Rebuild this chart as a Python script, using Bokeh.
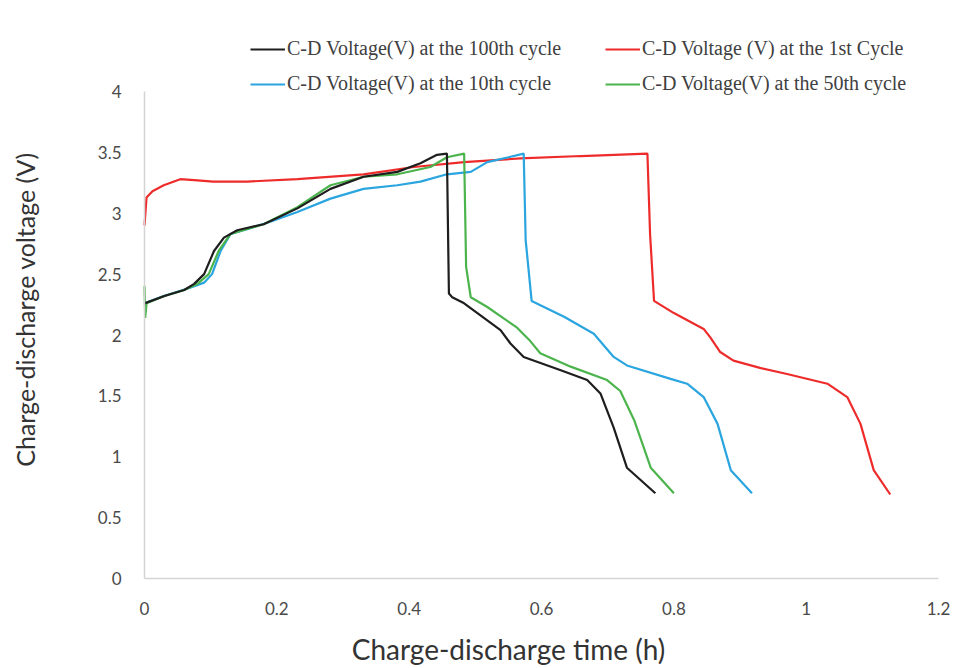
from bokeh.plotting import figure
from bokeh.models import Legend, LegendItem, Range1d, FixedTicker, LinearAxis
from bokeh.embed import file_html
from bokeh.resources import INLINE

# ---- data ----
series_names = [
    "C-D Voltage(V) at the 100th cycle",
    "C-D Voltage (V) at the 1st Cycle",
    "C-D Voltage(V) at the 10th cycle",
    "C-D Voltage(V) at the 50th cycle",
]

t_1st = [0, 0.003, 0.012, 0.029, 0.054, 0.080, 0.104, 0.155, 0.231, 0.331, 0.407, 0.483,
         0.568, 0.660, 0.760, 0.764, 0.770, 0.800, 0.845, 0.855, 0.870, 0.890, 0.930, 0.971,
         1.032, 1.062, 1.082, 1.102, 1.127]
v_1st = [2.90, 3.13, 3.18, 3.23, 3.28, 3.27, 3.26, 3.26, 3.28, 3.32, 3.38, 3.42,
         3.45, 3.47, 3.49, 2.83, 2.28, 2.18, 2.05, 1.98, 1.86, 1.79, 1.73, 1.68,
         1.60, 1.49, 1.27, 0.89, 0.69]

t_10th = [0, 0.029, 0.070, 0.090, 0.102, 0.115, 0.130, 0.155, 0.190, 0.231, 0.281, 0.331,
          0.382, 0.417, 0.457, 0.493, 0.518, 0.550, 0.573, 0.576, 0.585, 0.634, 0.679, 0.709,
          0.729, 0.795, 0.820, 0.845, 0.866, 0.886, 0.918]
v_10th = [2.26, 2.32, 2.39, 2.43, 2.50, 2.69, 2.83, 2.87, 2.93, 3.01, 3.12, 3.20,
          3.23, 3.26, 3.32, 3.34, 3.42, 3.46, 3.49, 2.78, 2.28, 2.15, 2.01, 1.82,
          1.75, 1.64, 1.60, 1.49, 1.27, 0.89, 0.70]

t_50th = [0, 0.001, 0.003, 0.030, 0.060, 0.080, 0.097, 0.112, 0.130, 0.180, 0.231, 0.281,
          0.331, 0.382, 0.432, 0.457, 0.483, 0.486, 0.493, 0.518, 0.563, 0.583, 0.598, 0.644,
          0.699, 0.719, 0.740, 0.765, 0.800]
v_50th = [2.40, 2.14, 2.26, 2.32, 2.37, 2.42, 2.50, 2.69, 2.83, 2.91, 3.05, 3.23,
          3.30, 3.32, 3.38, 3.46, 3.49, 2.56, 2.31, 2.23, 2.06, 1.95, 1.85, 1.74,
          1.63, 1.54, 1.30, 0.91, 0.70]

t_100th = [0, 0.030, 0.060, 0.075, 0.090, 0.105, 0.120, 0.140, 0.180, 0.231, 0.281, 0.331,
           0.382, 0.417, 0.442, 0.457, 0.460, 0.465, 0.483, 0.538, 0.553, 0.573, 0.629, 0.669,
           0.689, 0.709, 0.729, 0.772]
v_100th = [2.26, 2.32, 2.37, 2.42, 2.50, 2.69, 2.80, 2.86, 2.91, 3.04, 3.20, 3.30,
           3.34, 3.41, 3.48, 3.49, 2.34, 2.31, 2.26, 2.04, 1.93, 1.82, 1.71, 1.63,
           1.52, 1.24, 0.91, 0.70]

x_ticks = [0, 0.2, 0.4, 0.6, 0.8, 1.0, 1.2]
x_tick_labels = ["0", "0.2", "0.4", "0.6", "0.8", "1", "1.2"]
y_ticks = [0, 0.5, 1, 1.5, 2, 2.5, 3, 3.5, 4]
y_tick_labels = ["0", "0.5", "1", "1.5", "2", "2.5", "3", "3.5", "4"]

x_title = "Charge-discharge time (h)"
y_title = "Charge-discharge voltage (V)"

# ---- figure ----
# The frame is enlarged beyond the axes on every side so that the legend, tick
# labels and axis titles sit where the reference has them; the tick axes are
# pinned at x=0 / y=0 and limited with bounds.
p = figure(width=956, height=668, output_backend="svg", toolbar_location=None,
           x_range=Range1d(-0.127, 1.2271), y_range=Range1d(-0.3285, 4.7474),
           min_border_left=60, min_border_right=0, min_border_top=0, min_border_bottom=50)
p.xgrid.visible = False
p.ygrid.visible = False
p.outline_line_color = None
p.background_fill_color = "white"
p.border_fill_color = "white"

for ax, ticks, labels, bnd in ((p.xaxis[0], x_ticks, x_tick_labels, (0, 1.2)),
                               (p.yaxis[0], y_ticks, y_tick_labels, (0, 4))):
    ax.ticker = FixedTicker(ticks=ticks)
    ax.major_label_overrides = {tk: lb for tk, lb in zip(ticks, labels)}
    ax.bounds = bnd
    ax.fixed_location = 0
    ax.axis_line_color = "#d4d4d4"
    ax.axis_line_width = 1.5
    ax.major_tick_line_color = None
    ax.minor_tick_line_color = None
    ax.major_label_text_font = "Lato"
    ax.major_label_text_font_size = "17px"
    ax.major_label_text_color = "#4a4a4a"
    ax.major_label_standoff = 17


def title_axis(text, size, standoff):
    return LinearAxis(ticker=FixedTicker(ticks=[]), axis_label=text,
                      axis_line_color=None, major_tick_line_color=None,
                      minor_tick_line_color=None, axis_label_standoff=standoff,
                      axis_label_text_font="Lato", axis_label_text_font_size=size,
                      axis_label_text_font_style="normal", axis_label_text_color="#333333")


p.add_layout(title_axis(y_title, "25px", 21), "left")
p.add_layout(title_axis(x_title, "28px", 13), "below")

colors = {"1st": "#ee2b2b", "10th": "#2aa5df", "50th": "#4cb44c", "100th": "#1e1e1e"}
lw = 2.2
r_1st = p.line(t_1st, v_1st, line_color=colors["1st"], line_width=lw)
r_10th = p.line(t_10th, v_10th, line_color=colors["10th"], line_width=lw)
r_50th = p.line(t_50th, v_50th, line_color=colors["50th"], line_width=lw)
r_100th = p.line(t_100th, v_100th, line_color=colors["100th"], line_width=lw)


def make_legend(items, loc):
    lg = Legend(items=items, location=loc, orientation="vertical")
    lg.border_line_color = None
    lg.background_fill_alpha = 0
    lg.padding = 0
    lg.margin = 0
    lg.spacing = 12
    lg.glyph_width = 35
    lg.glyph_height = 22
    lg.label_height = 22
    lg.label_standoff = 2
    lg.label_text_font = "Liberation Serif"
    lg.label_text_font_size = "20px"
    lg.label_text_color = "#404040"
    return lg


# legend positions are measured from the frame's bottom-left corner
leg1 = make_legend([LegendItem(label=series_names[0], renderers=[r_100th]),
                    LegendItem(label=series_names[2], renderers=[r_10th])], (190, 523))
leg2 = make_legend([LegendItem(label=series_names[1], renderers=[r_1st]),
                    LegendItem(label=series_names[3], renderers=[r_50th])], (545, 523))
p.add_layout(leg1)
p.add_layout(leg2)

open("out.html", "w").write(file_html(p, INLINE))
